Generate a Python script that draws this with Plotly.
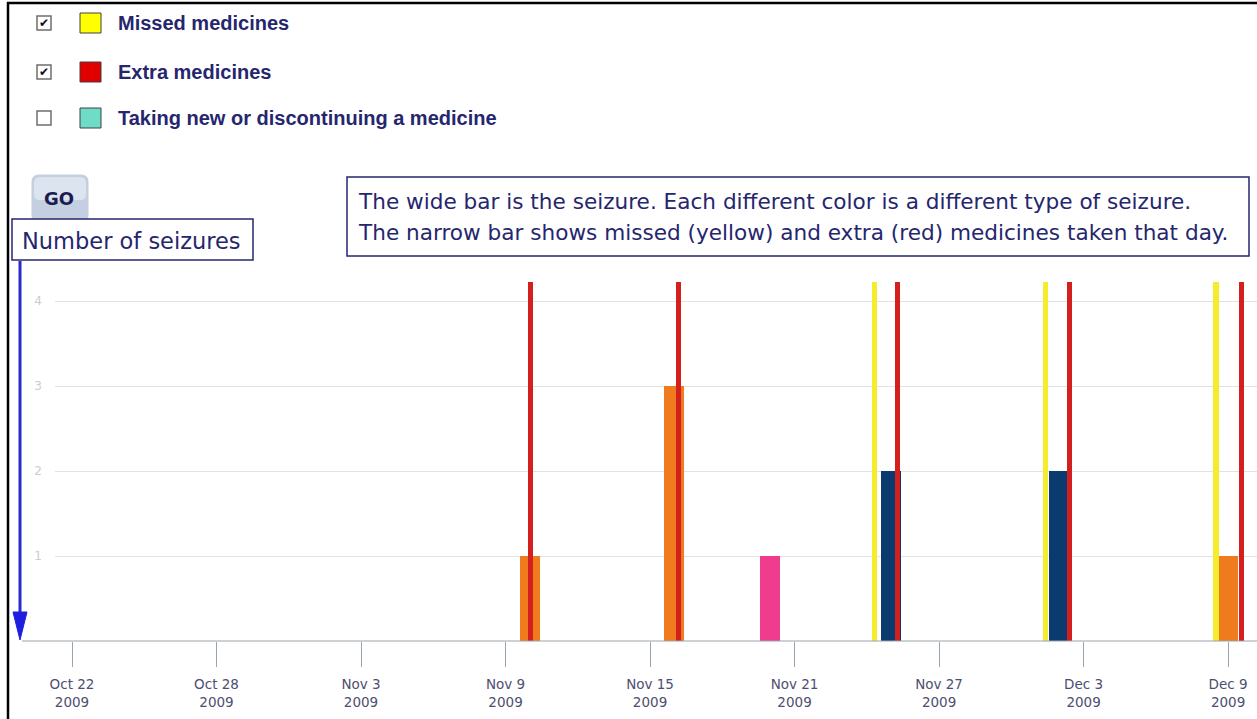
import plotly.graph_objects as go

# ---------------- data ----------------
seizure_dates = ["2009-11-10", "2009-11-16", "2009-11-20", "2009-11-25", "2009-12-02", "2009-12-09"]
seizure_counts = [1, 3, 1, 2, 2, 1]
seizure_types = ["A", "A", "B", "C", "C", "A"]
type_colors = {"A": "#f07a1e", "B": "#f03c8c", "C": "#0b3a6e"}

missed_times = ["2009-11-24 07:25", "2009-12-01 10:05", "2009-12-08 12:00"]
missed_values = [4.22, 4.22, 4.22]
extra_times = ["2009-11-10 00:30", "2009-11-16 04:00", "2009-11-25 06:40",
                "2009-12-02 10:20", "2009-12-09 13:30"]
extra_values = [4.22, 4.22, 4.22, 4.22, 4.22]

tick_dates = ["2009-10-22", "2009-10-28", "2009-11-03", "2009-11-09", "2009-11-15",
              "2009-11-21", "2009-11-27", "2009-12-03", "2009-12-09"]
tick_text = ["Oct 22<br>2009", "Oct 28<br>2009", "Nov 3<br>2009", "Nov 9<br>2009",
             "Nov 15<br>2009", "Nov 21<br>2009", "Nov 27<br>2009", "Dec 3<br>2009",
             "Dec 9<br>2009"]
y_ticks = [1, 2, 3, 4]

legend_labels = ["Missed medicines", "Extra medicines", "Taking new or discontinuing a medicine"]
legend_colors = ["#ffff00", "#e00000", "#6fdcc8"]
legend_checked = [True, True, False]

note_lines = ["The wide bar is the seizure. Each different color is a different type of seizure.",
              "The narrow bar shows missed (yellow) and extra (red) medicines taken that day."]

# ---------------- layout geometry ----------------
W, H = 1257, 719
L, R_, T, B = 55, 1257, 280, 641
DAY = 86400000
WIDE = 0.83 * DAY
NARROW = 0.21 * DAY


def px(x):
    return (x - L) / (R_ - L)


def py(y):
    return (B - y) / (B - T)


NAVY = "#26266e"

fig = go.Figure()

fig.add_trace(go.Bar(
    x=seizure_dates, y=seizure_counts,
    marker=dict(color=[type_colors[t] for t in seizure_types], line=dict(width=0)),
    width=[WIDE] * len(seizure_dates), name="Seizures", showlegend=False))
fig.add_trace(go.Bar(
    x=missed_times, y=missed_values,
    marker=dict(color="#f4ec2c", line=dict(width=0)),
    width=[NARROW] * len(missed_times), name="Missed medicines", showlegend=False))
fig.add_trace(go.Bar(
    x=extra_times, y=extra_values,
    marker=dict(color="#d41f1f", line=dict(width=0)),
    width=[NARROW] * len(extra_times), name="Extra medicines", showlegend=False))

shapes = []
annotations = []

# outer border (left, top)
shapes.append(dict(type="line", xref="paper", yref="paper", x0=px(8), x1=px(8), y0=py(2), y1=py(719),
                   line=dict(color="black", width=2.5)))
shapes.append(dict(type="line", xref="paper", yref="paper", x0=px(7), x1=px(1257), y0=py(3), y1=py(3),
                   line=dict(color="black", width=2.5)))

# legend rows
row_y = [23, 72, 118]
for lab, col, chk, yc in zip(legend_labels, legend_colors, legend_checked, row_y):
    shapes.append(dict(type="rect", xref="paper", yref="paper",
                       x0=px(37), x1=px(51), y0=py(yc - 7), y1=py(yc + 7),
                       fillcolor="white", line=dict(color="#6e6e6e", width=1.5)))
    if chk:
        annotations.append(dict(x=px(44), y=py(yc), xref="paper", yref="paper",
                                text="✔", showarrow=False, xanchor="center", yanchor="middle",
                                font=dict(size=12, color="#111111", family="DejaVu Sans")))
    shapes.append(dict(type="rect", xref="paper", yref="paper",
                       x0=px(80), x1=px(101), y0=py(yc - 10), y1=py(yc + 10),
                       fillcolor=col, line=dict(color="#404040", width=1)))
    annotations.append(dict(x=px(116), y=py(yc), xref="paper", yref="paper", text="<b>" + lab + "</b>",
                            showarrow=False, xanchor="left", yanchor="middle",
                            font=dict(size=20, color=NAVY, family="Liberation Sans")))


# GO button
def rounded(x0b, x1b, y0b, y1b, r):
    return (f"M {px(x0b + r)},{py(y0b)} L {px(x1b - r)},{py(y0b)} "
            f"Q {px(x1b)},{py(y0b)} {px(x1b)},{py(y0b + r)} L {px(x1b)},{py(y1b - r)} "
            f"Q {px(x1b)},{py(y1b)} {px(x1b - r)},{py(y1b)} L {px(x0b + r)},{py(y1b)} "
            f"Q {px(x0b)},{py(y1b)} {px(x0b)},{py(y1b - r)} L {px(x0b)},{py(y0b + r)} "
            f"Q {px(x0b)},{py(y0b)} {px(x0b + r)},{py(y0b)} Z")


shapes.append(dict(type="path", xref="paper", yref="paper", path=rounded(32, 88, 175, 222, 7),
                   fillcolor="#c4d0e2", line=dict(color="#c3cddd", width=1)))
shapes.append(dict(type="path", xref="paper", yref="paper", path=rounded(34, 86, 177, 200, 6),
                   fillcolor="#dce4f0", line=dict(width=0)))
annotations.append(dict(x=px(59), y=py(198), xref="paper", yref="paper", text="<b>GO</b>",
                        showarrow=False, xanchor="center", yanchor="middle",
                        font=dict(size=18, color="#1c1c4e", family="DejaVu Sans")))

# "Number of seizures" box
shapes.append(dict(type="rect", xref="paper", yref="paper", x0=px(12), x1=px(253), y0=py(219), y1=py(260),
                   fillcolor="white", line=dict(color=NAVY, width=1.5)))
annotations.append(dict(x=px(20), y=py(241), xref="paper", yref="paper", text="Number of seizures",
                        showarrow=False, xanchor="left", yanchor="middle",
                        font=dict(size=22.5, color=NAVY, family="DejaVu Sans")))

# blue arrow
shapes.append(dict(type="line", xref="paper", yref="paper", x0=px(20), x1=px(20), y0=py(261), y1=py(618),
                   line=dict(color="#2a2acc", width=3)))
shapes.append(dict(type="path", xref="paper", yref="paper",
                   path=f"M {px(13)},{py(612)} L {px(27)},{py(612)} L {px(20)},{py(640)} Z",
                   fillcolor="#1e1ee0", line=dict(color="#1e1ee0", width=1)))

# note box
shapes.append(dict(type="rect", xref="paper", yref="paper", x0=px(347), x1=px(1249), y0=py(177), y1=py(256),
                   fillcolor="white", line=dict(color=NAVY, width=1.5)))
for line_txt, yc in zip(note_lines, [201, 233]):
    annotations.append(dict(x=px(356), y=py(yc), xref="paper", yref="paper", text=line_txt,
                            showarrow=False, xanchor="left", yanchor="middle",
                            font=dict(size=21.6, color=NAVY, family="DejaVu Sans")))

# x axis line extended to the left
shapes.append(dict(type="line", xref="paper", yref="paper", x0=px(22), x1=1, y0=0, y1=0,
                   line=dict(color="#9aa4ae", width=1.2)))

fig.update_layout(
    width=W, height=H,
    margin=dict(l=L, r=W - R_, t=T, b=H - B, pad=0),
    paper_bgcolor="white", plot_bgcolor="white",
    barmode="overlay", bargap=0,
    shapes=shapes, annotations=annotations,
    showlegend=False,
    xaxis=dict(
        type="date",
        range=["2009-10-21 07:03", "2009-12-10 04:50"],
        tickmode="array", tickvals=tick_dates, ticktext=tick_text,
        ticks="outside", ticklen=25, tickcolor="#9aa4ae", tickwidth=1,
        showgrid=False, zeroline=False, showline=False,
        tickfont=dict(size=13.5, color="#4e4e70", family="DejaVu Sans"),
        ticklabelstandoff=6,
    ),
    yaxis=dict(
        range=[0, (B - T) / 85.0],
        tickmode="array", tickvals=y_ticks,
        showgrid=True, gridcolor="#e2e2e2", gridwidth=1,
        zeroline=False, showline=False, ticks="",
        tickfont=dict(size=12, color="#cccccc", family="DejaVu Sans"),
        ticklabelstandoff=12,
    ),
)

fig.write_html("out.html", config={"displayModeBar": False},
               post_script="document.body.style.margin='0';document.body.style.overflow='hidden';")
